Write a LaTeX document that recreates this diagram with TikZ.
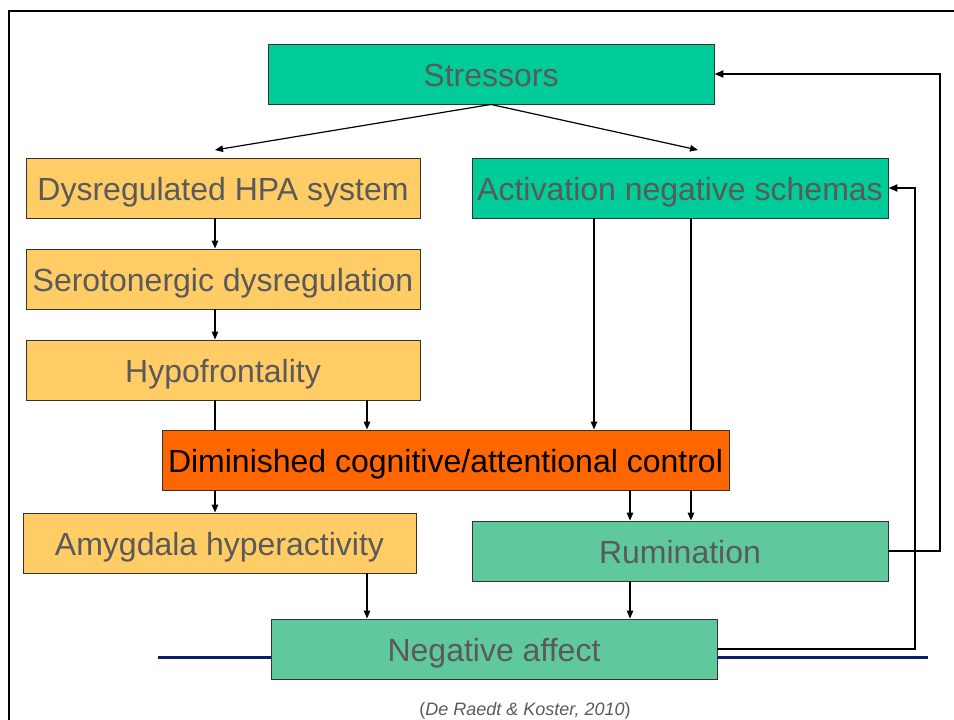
\documentclass[tikz,border=0pt]{standalone}
\usepackage{fontspec}
\setmainfont{Liberation Sans}
\usetikzlibrary{arrows.meta,backgrounds}
\definecolor{teal1}{HTML}{00CC99}
\definecolor{teal2}{HTML}{5FC99D}
\definecolor{yel}{HTML}{FFCC66}
\definecolor{org}{HTML}{FF6600}
\definecolor{txtgray}{HTML}{5A5A5A}
\definecolor{navy}{HTML}{0B1F66}
\tikzset{
  box/.style={draw=black!80, line width=0.9pt, rectangle, minimum height=60pt, inner sep=0pt,
    text height=26pt, text depth=2pt,
    text=txtgray, font=\fontsize{32}{38}\selectfont},
  arr/.style={draw=black, line width=1.2pt, -{Triangle[length=8pt,width=6.5pt]}},
  ln/.style={draw=black, line width=1.2pt},
  fb/.style={draw=black, line width=2pt, -{Triangle[length=9pt,width=7pt]}},
}
\begin{document}
\begin{tikzpicture}[x=1pt,y=-1pt]
\useasboundingbox (0,0) rectangle (954,720);
% slide frame
\draw[line width=2.2pt] (9,720) -- (9,11) -- (954,11);
% nodes
\node[box, fill=teal1, minimum width=446pt] (stress) at (491,74) {Stressors};
\node[box, fill=yel, minimum width=394pt] (hpa) at (223,188) {Dysregulated HPA system};
\node[box, fill=teal1, minimum width=416pt] (schem) at (680,188) {Activation negative schemas};
\node[box, fill=yel, minimum width=394pt] (sero) at (223,279) {Serotonergic dysregulation};
\node[box, fill=yel, minimum width=394pt] (hypo) at (223,370) {Hypofrontality};
\node[box, fill=org, minimum width=567pt, text=black] (dim) at (445.5,460) {Diminished cognitive/attentional control};
\node[box, fill=yel, minimum width=393pt] (amyg) at (219.5,543) {Amygdala hyperactivity};
\node[box, fill=teal2, minimum width=416pt] (rum) at (680,551) {Rumination};
\node[box, fill=teal2, minimum width=446pt] (neg) at (494,649) {Negative affect};
\node[text=txtgray, font=\fontsize{18}{22}\selectfont] (cite) at (525,711) {(\textit{De Raedt \& Koster, 2010})};
% column coordinates
\coordinate (cA) at (215,0);
\coordinate (cB) at (367,0);
\coordinate (cC) at (594,0);
\coordinate (cD) at (691,0);
\coordinate (cE) at (630,0);
\coordinate (tL) at (215,150);
\coordinate (tR) at (698,150);
\coordinate (bl1) at (158,657);
\coordinate (bl2) at (928,657);
% background items
\begin{scope}[on background layer]
\draw[navy, line width=3pt] (bl1) -- (bl2);
\draw[arr, line width=1.5pt] (schem.south -| cD) -- (rum.north -| cD);
\end{scope}
% connectors
\draw[arr] (stress.south) -- (tL);
\draw[arr] (stress.south) -- (tR);
\draw[arr] (hpa.south -| cA) -- (sero.north -| cA);
\draw[arr] (sero.south -| cA) -- (hypo.north -| cA);
\draw[ln] (hypo.south -| cA) -- (dim.north -| cA);
\draw[arr] (hypo.south -| cB) -- (dim.north -| cB);
\draw[arr] (schem.south -| cC) -- (dim.north -| cC);
\draw[arr] (dim.south -| cA) -- (amyg.north -| cA);
\draw[arr] (dim.south -| cE) -- (rum.north -| cE);
\draw[arr] (amyg.south -| cB) -- (neg.north -| cB);
\draw[arr] (rum.south -| cE) -- (neg.north -| cE);
\draw[fb] (rum.east) -- ++(52,0) |- (stress.east);
\draw[fb] (neg.east) -- ++(198,0) |- (schem.east);
\end{tikzpicture}
\end{document}
